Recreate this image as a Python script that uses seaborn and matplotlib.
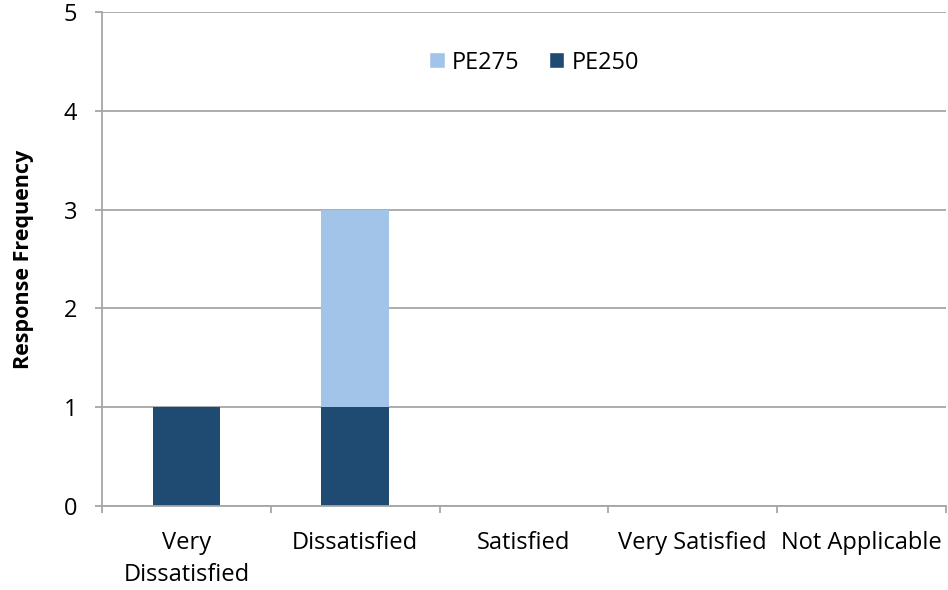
import matplotlib
matplotlib.use("Agg")
import matplotlib.pyplot as plt
from matplotlib.patches import Patch
import seaborn as sns
import pandas as pd
import numpy as np

categories = ["Very\nDissatisfied", "Dissatisfied", "Satisfied", "Very Satisfied", "Not Applicable"]
pe250 = [1, 1, 0, 0, 0]
pe275 = [0, 2, 0, 0, 0]
y_ticks = [0, 1, 2, 3, 4, 5]

color_pe250 = "#1F4A72"
color_pe275 = "#A3C4E9"
grid_color = "#A6A6A6"
text_color = "#000000"

sns.set_theme(style="white")
plt.rcParams["font.family"] = ["Open Sans", "DejaVu Sans"]
plt.rcParams["text.color"] = text_color
plt.rcParams["axes.labelcolor"] = text_color
plt.rcParams["xtick.color"] = text_color
plt.rcParams["ytick.color"] = text_color

df = pd.DataFrame({
    "category": categories,
    "PE250": pe250,
    "PE275": pe275,
})
df["total"] = df["PE250"] + df["PE275"]

fig = plt.figure(figsize=(9.48, 5.9), dpi=100)
ax = fig.add_axes([102 / 948, 1 - 506 / 590, 844 / 948, 494 / 590])

# Stacked bars: full stack in the light colour, lower segment overdrawn in dark
sns.barplot(data=df, x="category", y="total", color=color_pe275, width=0.4,
            saturation=1, ax=ax, order=categories)
sns.barplot(data=df, x="category", y="PE250", color=color_pe250, width=0.4,
            saturation=1, ax=ax, order=categories)
for p in ax.patches:
    p.set_edgecolor("none")

ax.set_ylim(0, 5)
ax.set_xlim(-0.5, len(categories) - 0.5)
ax.set_yticks(y_ticks)
ax.set_yticklabels([str(v) for v in y_ticks], fontsize=17)
ax.yaxis.grid(True, color=grid_color, linewidth=1.3)
ax.set_axisbelow(True)

# Category labels centred between boundary ticks
ax.set_xticks(np.arange(len(categories)))
ax.set_xticklabels(categories, fontsize=17, linespacing=1.45)
ax.tick_params(axis="x", length=0, pad=18)
ax.set_xticks(np.arange(len(categories) + 1) - 0.5, minor=True)
ax.tick_params(axis="x", which="minor", length=5, color=grid_color, width=1.3, direction="out")
ax.tick_params(axis="y", length=5, color=grid_color, width=1.3, direction="out", pad=13)
ax.xaxis.set_tick_params(which="minor", bottom=True)
ax.yaxis.set_tick_params(left=True)

for side in ["top", "right"]:
    ax.spines[side].set_visible(False)
for side in ["left", "bottom"]:
    ax.spines[side].set_color(grid_color)
    ax.spines[side].set_linewidth(1.3)

ax.set_xlabel("")
ax.set_ylabel("Response Frequency", fontsize=15.5, fontweight="bold", labelpad=21)

handles = [Patch(facecolor=color_pe275, label="PE275"),
           Patch(facecolor=color_pe250, label="PE250")]
ax.legend(handles=handles, loc="upper center", bbox_to_anchor=(0.512, 0.965),
          ncol=2, frameon=False, fontsize=17, handlelength=0.65, handleheight=0.65,
          handletextpad=0.3, columnspacing=1.25)

fig.savefig("out.png", dpi=100)
